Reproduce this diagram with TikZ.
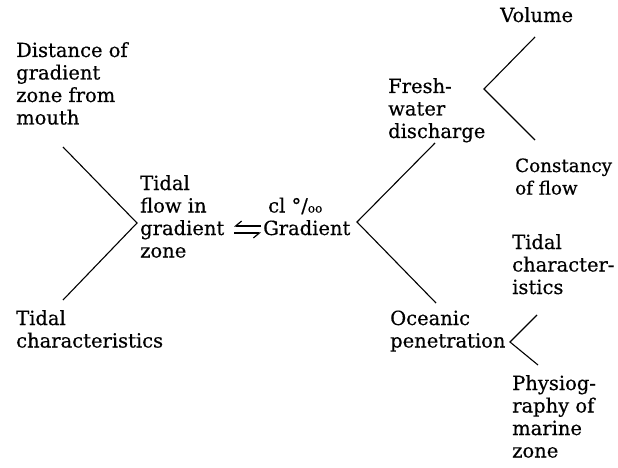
\documentclass[tikz,border=0pt]{standalone}
\usepackage{fontspec}
\setmainfont{DejaVu Serif}[FakeBold=0.5]
\usetikzlibrary{arrows.meta,calc}
\begin{document}
\begin{tikzpicture}[x=1pt,y=-1pt,
  lbl/.style={anchor=base west,inner sep=0pt,align=left,
    font=\fontsize{19.5}{22.5}\selectfont},
  conn/.style={line width=1.1pt,line join=miter},
  harp/.style={line width=1.2pt,-{Straight Barb[harpoon,swap,length=6pt,width=10pt]}}]
\useasboundingbox (0,0) rectangle (618,468);
% nodes (anchored at the baseline of their last line)
\node[lbl] (dist) at (16,124.5) {Distance of\\gradient\\zone from\\mouth};
\node[lbl] (tcl) at (16,347.5) {Tidal\\characteristics};
\node[lbl] (tflow) at (140,257.5) {Tidal\\flow in\\gradient\\zone};
\node[lbl] (grad) at (263,235) {\hspace{5pt}cl °/{\fontsize{12}{12}\selectfont oo}\\Gradient};
\node[lbl] (fresh) at (388,138) {Fresh-\\water\\discharge};
\node[lbl] (vol) at (500,22) {Volume};
\node[lbl,font=\fontsize{18.3}{22.5}\selectfont] (const) at (515,194.5) {Constancy\\of flow};
\node[lbl] (tchar) at (512,294) {Tidal\\character-\\istics};
\node[lbl] (ocean) at (390,347.5) {Oceanic\\penetration};
\node[lbl] (phys) at (512,457.5) {Physiog-\\raphy of\\marine\\zone};
% vertices
\coordinate (vL) at (137,223);
\coordinate (vG) at (357,222);
\coordinate (vF) at (484,89);
\coordinate (vO) at (510,342);
% connectors
\draw[conn] ($(dist.base west)+(47,22.5)$) -- (vL) -- ($(tcl.base west)+(47,-47.5)$);
\draw[conn] ($(fresh.base west)+(47,5)$) -- (vG) -- ($(ocean.base west)+(46,-44.5)$);
\draw[conn] ($(vol.base west)+(35,15)$) -- (vF) -- ($(const.base west)+(20,-54.5)$);
\draw[conn] ($(tchar.base west)+(25,21)$) -- (vO) -- ($(phys.base west)+(26,-92.5)$);
\draw[harp] ($(grad.base west)+(-2,-9)$) -- ($(grad.base west)+(-29,-9)$);
\draw[harp] ($(grad.base west)+(-29,-2)$) -- ($(grad.base west)+(-2,-2)$);
\end{tikzpicture}
\end{document}
